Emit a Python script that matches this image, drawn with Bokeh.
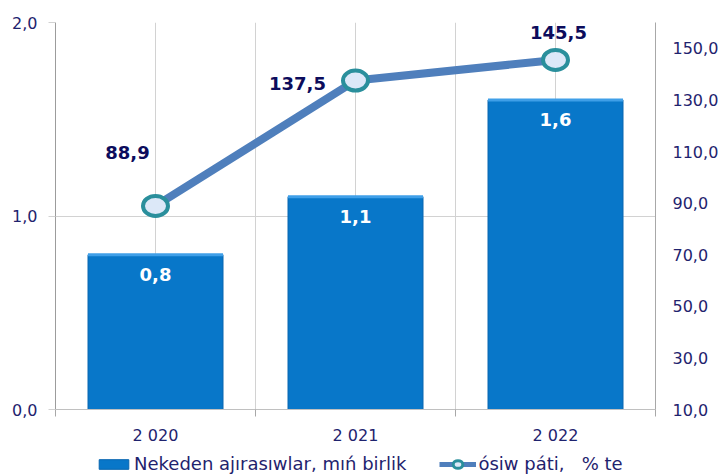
from bokeh.plotting import figure
from bokeh.layouts import column
from bokeh.models import (Range1d, LinearAxis, FixedTicker, Legend, LegendItem,
                          ColumnDataSource)
from bokeh.core.properties import value
from bokeh.embed import file_html
from bokeh.resources import INLINE

# ---- data ----
years = ["2 020", "2 021", "2 022"]
separations = [0.8, 1.1, 1.6]          # Nekeden ajırasıwlar, mıń birlik
growth = [88.9, 137.5, 145.5]          # ósiw páti, % te
sep_labels = ["0,8", "1,1", "1,6"]
growth_labels = ["88,9", "137,5", "145,5"]
left_ticks = [0, 1, 2]
left_tick_labels = ["0,0", "1,0", "2,0"]
right_ticks = [10, 30, 50, 70, 90, 110, 130, 150]
right_tick_labels = ["10,0", "30,0", "50,0", "70,0", "90,0", "110,0", "130,0", "150,0"]
series_names = ["Nekeden ajırasıwlar, mıń birlik", "ósiw páti,   % te"]

# ---- layout / style ----
xs = [i + 0.5 for i in range(len(years))]
BAR_W = 0.675
growth_dx = [-28, -58, 3]
growth_dy = [-53, 3, -27]
FONT = "DejaVu Sans"
NAVY = "#1f236e"
LABEL_NAVY = "#0c0c5c"
GRID = "#d2d2d2"
BAR_FILL = "#0877c9"
BAR_LINE = "#0866b0"
BAR_TOP = "#3f9fe8"
LINE_COL = "#4f7fbc"
MK_FILL = "#dce8f8"
MK_LINE = "#2a8f9c"

p = figure(width=728, height=447, output_backend="svg", toolbar_location=None,
           x_range=Range1d(0, len(years)), y_range=Range1d(0, 2),
           min_border_left=55, min_border_right=73, min_border_top=22,
           min_border_bottom=37)
p.outline_line_color = None
p.background_fill_color = "white"
p.border_fill_color = "white"

p.extra_y_ranges = {"right": Range1d(10, 160)}

# x axis
xa = p.xaxis[0]
xa.ticker = FixedTicker(ticks=xs, minor_ticks=list(range(len(years) + 1)))
xa.major_label_overrides = {x: y for x, y in zip(xs, years)}
xa.major_tick_out = 0
xa.major_tick_in = 0
xa.minor_tick_out = 7
xa.minor_tick_in = 0
xa.minor_tick_line_color = "#a8a8a8"
xa.axis_line_color = "#c0c0c0"
xa.major_label_standoff = 9
xa.major_label_text_font = FONT
xa.major_label_text_font_size = "16px"
xa.major_label_text_color = NAVY

# left axis
ya = p.yaxis[0]
ya.ticker = FixedTicker(ticks=left_ticks)
ya.major_label_overrides = {t: l for t, l in zip(left_ticks, left_tick_labels)}
ya.major_tick_out = 7
ya.major_tick_in = 0
ya.minor_tick_line_color = None
ya.major_tick_line_color = GRID
ya.axis_line_color = "#9c9c9c"
ya.major_label_standoff = 11
ya.major_label_text_font = FONT
ya.major_label_text_font_size = "16px"
ya.major_label_text_color = NAVY

# right axis
ra = LinearAxis(y_range_name="right", ticker=FixedTicker(ticks=right_ticks))
ra.major_label_overrides = {t: l for t, l in zip(right_ticks, right_tick_labels)}
ra.major_tick_out = 0
ra.major_tick_in = 0
ra.minor_tick_line_color = None
ra.axis_line_color = "#a8a8a8"
ra.major_label_standoff = 17
ra.major_label_text_font = FONT
ra.major_label_text_font_size = "16px"
ra.major_label_text_color = NAVY
p.add_layout(ra, "right")

# grids
p.xgrid.ticker = FixedTicker(ticks=[i * 0.5 for i in range(2 * len(years) + 1)])
p.xgrid.grid_line_color = GRID
p.ygrid.grid_line_color = GRID

# bars
src = ColumnDataSource(dict(x=xs, top=separations, lab=sep_labels,
                            g=growth, glab=growth_labels,
                            dx=growth_dx, dy=growth_dy,
                            xl=[x - BAR_W / 2 for x in xs],
                            xr=[x + BAR_W / 2 for x in xs]))
p.vbar(x="x", top="top", width=BAR_W, bottom=0, source=src,
       fill_color=BAR_FILL, line_color=BAR_LINE, line_width=1)
# lighter bevel on the top edge of each bar
p.segment(x0="xl", y0="top", x1="xr", y1="top", source=src,
          line_color=BAR_TOP, line_width=3, line_cap="butt")
p.text(x="x", y="top", text="lab", source=src, text_align="center",
       text_baseline="middle", y_offset=20, text_color="white",
       text_font=value(FONT), text_font_style="bold", text_font_size="18px")

# growth line
p.line(x="x", y="g", source=src, y_range_name="right",
       line_color=LINE_COL, line_width=8)
p.ellipse(x="x", y="g", source=src, y_range_name="right",
          width=25, height=20, width_units="screen", height_units="screen",
          fill_color=MK_FILL, line_color=MK_LINE, line_width=4)
p.text(x="x", y="g", text="glab", source=src, y_range_name="right",
       x_offset="dx", y_offset="dy", text_align="center",
       text_baseline="middle", text_color=LABEL_NAVY,
       text_font=value(FONT), text_font_style="bold", text_font_size="18px")

# legend strip: a second figure holding only the legend (its glyphs use the
# same series, placed outside this strip's visible ranges)
lg = figure(width=728, height=27, output_backend="svg", toolbar_location=None,
            x_range=Range1d(100, 101), y_range=Range1d(100, 101),
            min_border=0)
lg.axis.visible = False
lg.outline_line_color = None
lg.xgrid.visible = False
lg.ygrid.visible = False
lb = lg.vbar(x=xs, top=separations, width=BAR_W,
             fill_color=BAR_FILL, line_color=BAR_LINE, line_width=1)
ll = lg.line(x=xs, y=growth, line_color=LINE_COL, line_width=5)
lm = lg.ellipse(x=xs, y=growth, width=25, height=20,
                width_units="screen", height_units="screen",
                fill_color=MK_FILL, line_color=MK_LINE, line_width=3)
legend = Legend(items=[LegendItem(label=series_names[0], renderers=[lb]),
                       LegendItem(label=series_names[1], renderers=[ll, lm])],
                orientation="horizontal", location=(40, 0),
                glyph_width=37, glyph_height=12, label_standoff=2, spacing=33,
                padding=0, margin=0, border_line_color=None,
                background_fill_alpha=0,
                label_text_font=FONT, label_text_font_size="18px",
                label_text_color=NAVY)
lg.add_layout(legend)

layout = column(p, lg, spacing=0)
open("out.html", "w").write(file_html(layout, INLINE))
